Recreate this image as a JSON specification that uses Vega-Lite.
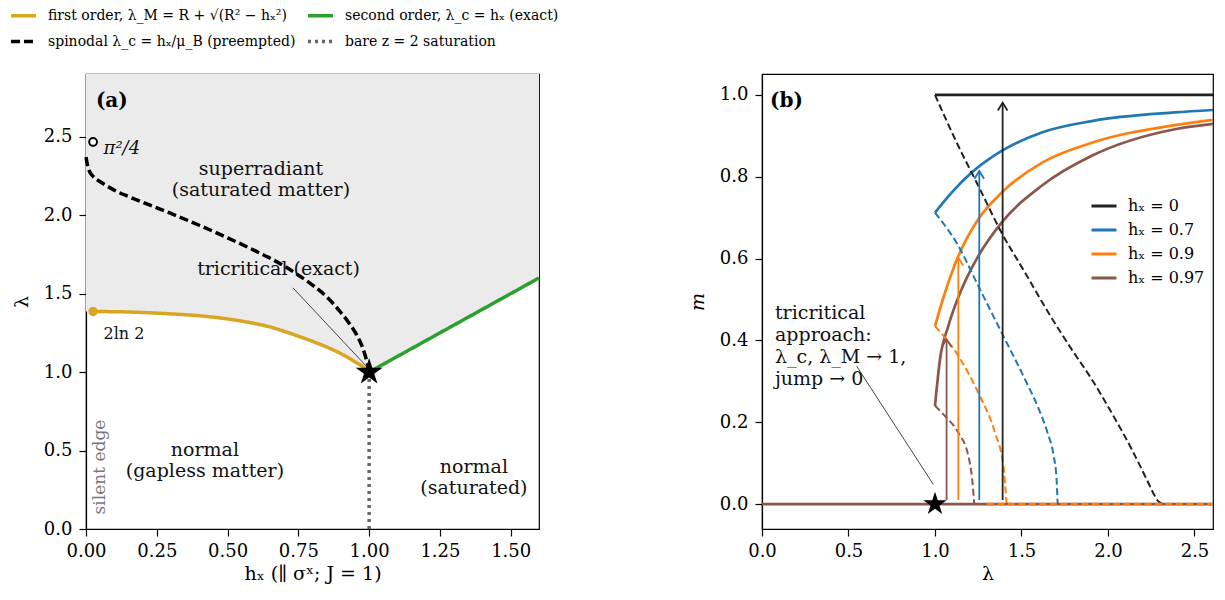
{
  "$schema": "https://vega.github.io/schema/vega-lite/v6.json",
  "background": "white",
  "padding": {"left": 8, "top": 0, "right": 5, "bottom": 5},
  "spacing": 127,
  "config": {
    "font": "DejaVu Serif",
    "view": {"stroke": "black", "strokeWidth": 1.2},
    "axis": {"labelFont": "DejaVu Serif", "labelFontSize": 18, "labelColor": "black", "labelFlush": false, "labelOverlap": false, "titleFont": "DejaVu Serif", "titleFontSize": 19, "titleFontWeight": "normal", "titleColor": "black", "domainColor": "black", "domainWidth": 1.2, "tickColor": "black", "tickSize": 7, "tickWidth": 1.2, "grid": false, "labelPadding": 6},
    "axisY": {"labelPadding": 7},
    "legend": {"labelFont": "DejaVu Serif", "labelColor": "black", "padding": 0}
  },
  "resolve": {"scale": {"color": "independent", "strokeDash": "independent", "strokeWidth": "independent"}},
  "datasets": {
    "a_area": [
      {"h": 0, "lam": 1.387}, {"h": 0.025, "lam": 1.387}, {"h": 0.05, "lam": 1.386}, {"h": 0.1, "lam": 1.385},
      {"h": 0.15, "lam": 1.383}, {"h": 0.2, "lam": 1.38}, {"h": 0.25, "lam": 1.376}, {"h": 0.3, "lam": 1.371},
      {"h": 0.35, "lam": 1.366}, {"h": 0.4, "lam": 1.359}, {"h": 0.45, "lam": 1.35}, {"h": 0.5, "lam": 1.339},
      {"h": 0.55, "lam": 1.325}, {"h": 0.6, "lam": 1.308}, {"h": 0.65, "lam": 1.288}, {"h": 0.7, "lam": 1.26},
      {"h": 0.75, "lam": 1.229}, {"h": 0.8, "lam": 1.196}, {"h": 0.85, "lam": 1.16}, {"h": 0.9, "lam": 1.118},
      {"h": 0.95, "lam": 1.066}, {"h": 0.975, "lam": 1.038}, {"h": 1.0, "lam": 1.0}, {"h": 1.6, "lam": 1.6}
    ],
    "a_lines": [
      {"curve": "first order, λ_M = R + √(R² − hₓ²)", "ord": 1, "h": 0.025, "lam": 1.387},
      {"curve": "first order, λ_M = R + √(R² − hₓ²)", "ord": 2, "h": 0.05, "lam": 1.386},
      {"curve": "first order, λ_M = R + √(R² − hₓ²)", "ord": 3, "h": 0.1, "lam": 1.385},
      {"curve": "first order, λ_M = R + √(R² − hₓ²)", "ord": 4, "h": 0.15, "lam": 1.383},
      {"curve": "first order, λ_M = R + √(R² − hₓ²)", "ord": 5, "h": 0.2, "lam": 1.38},
      {"curve": "first order, λ_M = R + √(R² − hₓ²)", "ord": 6, "h": 0.25, "lam": 1.376},
      {"curve": "first order, λ_M = R + √(R² − hₓ²)", "ord": 7, "h": 0.3, "lam": 1.371},
      {"curve": "first order, λ_M = R + √(R² − hₓ²)", "ord": 8, "h": 0.35, "lam": 1.366},
      {"curve": "first order, λ_M = R + √(R² − hₓ²)", "ord": 9, "h": 0.4, "lam": 1.359},
      {"curve": "first order, λ_M = R + √(R² − hₓ²)", "ord": 10, "h": 0.45, "lam": 1.35},
      {"curve": "first order, λ_M = R + √(R² − hₓ²)", "ord": 11, "h": 0.5, "lam": 1.339},
      {"curve": "first order, λ_M = R + √(R² − hₓ²)", "ord": 12, "h": 0.55, "lam": 1.325},
      {"curve": "first order, λ_M = R + √(R² − hₓ²)", "ord": 13, "h": 0.6, "lam": 1.308},
      {"curve": "first order, λ_M = R + √(R² − hₓ²)", "ord": 14, "h": 0.65, "lam": 1.288},
      {"curve": "first order, λ_M = R + √(R² − hₓ²)", "ord": 15, "h": 0.7, "lam": 1.26},
      {"curve": "first order, λ_M = R + √(R² − hₓ²)", "ord": 16, "h": 0.75, "lam": 1.229},
      {"curve": "first order, λ_M = R + √(R² − hₓ²)", "ord": 17, "h": 0.8, "lam": 1.196},
      {"curve": "first order, λ_M = R + √(R² − hₓ²)", "ord": 18, "h": 0.85, "lam": 1.16},
      {"curve": "first order, λ_M = R + √(R² − hₓ²)", "ord": 19, "h": 0.9, "lam": 1.118},
      {"curve": "first order, λ_M = R + √(R² − hₓ²)", "ord": 20, "h": 0.95, "lam": 1.066},
      {"curve": "first order, λ_M = R + √(R² − hₓ²)", "ord": 21, "h": 0.975, "lam": 1.038},
      {"curve": "first order, λ_M = R + √(R² − hₓ²)", "ord": 22, "h": 1.0, "lam": 1.0},
      {"curve": "second order, λ_c = hₓ (exact)", "ord": 1, "h": 1.0, "lam": 1.0},
      {"curve": "second order, λ_c = hₓ (exact)", "ord": 2, "h": 1.6, "lam": 1.6},
      {"curve": "spinodal λ_c = hₓ/μ_B (preempted)", "ord": 1, "h": 0.0, "lam": 2.37},
      {"curve": "spinodal λ_c = hₓ/μ_B (preempted)", "ord": 2, "h": 0.004, "lam": 2.33},
      {"curve": "spinodal λ_c = hₓ/μ_B (preempted)", "ord": 3, "h": 0.01, "lam": 2.29},
      {"curve": "spinodal λ_c = hₓ/μ_B (preempted)", "ord": 4, "h": 0.025, "lam": 2.248},
      {"curve": "spinodal λ_c = hₓ/μ_B (preempted)", "ord": 5, "h": 0.05, "lam": 2.213},
      {"curve": "spinodal λ_c = hₓ/μ_B (preempted)", "ord": 6, "h": 0.075, "lam": 2.185},
      {"curve": "spinodal λ_c = hₓ/μ_B (preempted)", "ord": 7, "h": 0.107, "lam": 2.153},
      {"curve": "spinodal λ_c = hₓ/μ_B (preempted)", "ord": 8, "h": 0.15, "lam": 2.119},
      {"curve": "spinodal λ_c = hₓ/μ_B (preempted)", "ord": 9, "h": 0.2, "lam": 2.083},
      {"curve": "spinodal λ_c = hₓ/μ_B (preempted)", "ord": 10, "h": 0.3, "lam": 2.011},
      {"curve": "spinodal λ_c = hₓ/μ_B (preempted)", "ord": 11, "h": 0.4, "lam": 1.936},
      {"curve": "spinodal λ_c = hₓ/μ_B (preempted)", "ord": 12, "h": 0.5, "lam": 1.856},
      {"curve": "spinodal λ_c = hₓ/μ_B (preempted)", "ord": 13, "h": 0.6, "lam": 1.771},
      {"curve": "spinodal λ_c = hₓ/μ_B (preempted)", "ord": 14, "h": 0.7, "lam": 1.676},
      {"curve": "spinodal λ_c = hₓ/μ_B (preempted)", "ord": 15, "h": 0.75, "lam": 1.618},
      {"curve": "spinodal λ_c = hₓ/μ_B (preempted)", "ord": 16, "h": 0.8, "lam": 1.555},
      {"curve": "spinodal λ_c = hₓ/μ_B (preempted)", "ord": 17, "h": 0.85, "lam": 1.48},
      {"curve": "spinodal λ_c = hₓ/μ_B (preempted)", "ord": 18, "h": 0.9, "lam": 1.38},
      {"curve": "spinodal λ_c = hₓ/μ_B (preempted)", "ord": 19, "h": 0.93, "lam": 1.31},
      {"curve": "spinodal λ_c = hₓ/μ_B (preempted)", "ord": 20, "h": 0.955, "lam": 1.24},
      {"curve": "spinodal λ_c = hₓ/μ_B (preempted)", "ord": 21, "h": 0.975, "lam": 1.165},
      {"curve": "spinodal λ_c = hₓ/μ_B (preempted)", "ord": 22, "h": 0.985, "lam": 1.113},
      {"curve": "spinodal λ_c = hₓ/μ_B (preempted)", "ord": 23, "h": 0.993, "lam": 1.06},
      {"curve": "spinodal λ_c = hₓ/μ_B (preempted)", "ord": 24, "h": 1.0, "lam": 1.0},
      {"curve": "bare z = 2 saturation", "ord": 1, "h": 1.0, "lam": 0.0},
      {"curve": "bare z = 2 saturation", "ord": 2, "h": 1.0, "lam": 1.0}
    ],
    "a_ptr": [{"h": 0.731, "lam": 1.537, "h2": 0.99, "lam2": 1.038}],
    "a_gold": [{"h": 0.025, "lam": 1.387}],
    "a_open": [{"h": 0.025, "lam": 2.467}],
    "a_star": [{"h": 1.0, "lam": 1.0}],
    "a_tc": [
      {"h": 0.618, "lam": 2.296, "t": "superradiant\n(saturated matter)"},
      {"h": 0.68, "lam": 1.656, "t": "tricritical (exact)"},
      {"h": 0.42, "lam": 0.506, "t": "normal\n(gapless matter)"},
      {"h": 1.37, "lam": 0.392, "t": "normal\n(saturated)"}
    ],
    "a_pi": [{"h": 0.062, "lam": 2.42, "t": "π²/4"}],
    "a_ln": [{"h": 0.062, "lam": 1.245, "t": "2ln 2"}],
    "a_lab": [{"h": 0.035, "lam": 2.726, "t": "(a)"}],
    "a_silent": [{"h": 0.049, "lam": 0.395, "t": "silent edge"}],
    "b_stable": [
      {"series": "hₓ = 0", "lam": 1.0, "m": 1.0}, {"series": "hₓ = 0", "lam": 2.607, "m": 1.0},
      {"series": "hₓ = 0.7", "lam": 1.0, "m": 0.712}, {"series": "hₓ = 0.7", "lam": 1.096, "m": 0.761},
      {"series": "hₓ = 0.7", "lam": 1.212, "m": 0.81}, {"series": "hₓ = 0.7", "lam": 1.385, "m": 0.863},
      {"series": "hₓ = 0.7", "lam": 1.617, "m": 0.908}, {"series": "hₓ = 0.7", "lam": 1.906, "m": 0.936},
      {"series": "hₓ = 0.7", "lam": 2.387, "m": 0.957}, {"series": "hₓ = 0.7", "lam": 2.607, "m": 0.963},
      {"series": "hₓ = 0.9", "lam": 1.0, "m": 0.435}, {"series": "hₓ = 0.9", "lam": 1.058, "m": 0.517},
      {"series": "hₓ = 0.9", "lam": 1.135, "m": 0.606}, {"series": "hₓ = 0.9", "lam": 1.25, "m": 0.696},
      {"series": "hₓ = 0.9", "lam": 1.385, "m": 0.761}, {"series": "hₓ = 0.9", "lam": 1.617, "m": 0.834},
      {"series": "hₓ = 0.9", "lam": 1.906, "m": 0.883}, {"series": "hₓ = 0.9", "lam": 2.387, "m": 0.926},
      {"series": "hₓ = 0.9", "lam": 2.607, "m": 0.939},
      {"series": "hₓ = 0.97", "lam": 1.0, "m": 0.24}, {"series": "hₓ = 0.97", "lam": 1.029, "m": 0.354},
      {"series": "hₓ = 0.97", "lam": 1.077, "m": 0.435}, {"series": "hₓ = 0.97", "lam": 1.154, "m": 0.525},
      {"series": "hₓ = 0.97", "lam": 1.25, "m": 0.606}, {"series": "hₓ = 0.97", "lam": 1.385, "m": 0.688},
      {"series": "hₓ = 0.97", "lam": 1.617, "m": 0.778}, {"series": "hₓ = 0.97", "lam": 1.906, "m": 0.851},
      {"series": "hₓ = 0.97", "lam": 2.387, "m": 0.916}, {"series": "hₓ = 0.97", "lam": 2.607, "m": 0.929}
    ],
    "b_unstable": [
      {"series": "hₓ = 0", "lam": 1.0, "m": 1.0}, {"series": "hₓ = 0", "lam": 1.135, "m": 0.875},
      {"series": "hₓ = 0", "lam": 1.25, "m": 0.778}, {"series": "hₓ = 0", "lam": 1.385, "m": 0.663},
      {"series": "hₓ = 0", "lam": 1.52, "m": 0.566}, {"series": "hₓ = 0", "lam": 1.655, "m": 0.468},
      {"series": "hₓ = 0", "lam": 1.79, "m": 0.378}, {"series": "hₓ = 0", "lam": 1.906, "m": 0.305},
      {"series": "hₓ = 0", "lam": 2.021, "m": 0.223}, {"series": "hₓ = 0", "lam": 2.137, "m": 0.134},
      {"series": "hₓ = 0", "lam": 2.233, "m": 0.052}, {"series": "hₓ = 0", "lam": 2.27, "m": 0.02},
      {"series": "hₓ = 0", "lam": 2.29, "m": 0.007}, {"series": "hₓ = 0", "lam": 2.32, "m": 0.0},
      {"series": "hₓ = 0.7", "lam": 1.0, "m": 0.712}, {"series": "hₓ = 0.7", "lam": 1.135, "m": 0.631},
      {"series": "hₓ = 0.7", "lam": 1.25, "m": 0.533}, {"series": "hₓ = 0.7", "lam": 1.385, "m": 0.419},
      {"series": "hₓ = 0.7", "lam": 1.52, "m": 0.305}, {"series": "hₓ = 0.7", "lam": 1.6, "m": 0.232},
      {"series": "hₓ = 0.7", "lam": 1.65, "m": 0.175}, {"series": "hₓ = 0.7", "lam": 1.685, "m": 0.12},
      {"series": "hₓ = 0.7", "lam": 1.702, "m": 0.065}, {"series": "hₓ = 0.7", "lam": 1.709, "m": 0.0},
      {"series": "hₓ = 0.9", "lam": 1.0, "m": 0.435}, {"series": "hₓ = 0.9", "lam": 1.135, "m": 0.362},
      {"series": "hₓ = 0.9", "lam": 1.25, "m": 0.272}, {"series": "hₓ = 0.9", "lam": 1.347, "m": 0.174},
      {"series": "hₓ = 0.9", "lam": 1.395, "m": 0.093}, {"series": "hₓ = 0.9", "lam": 1.414, "m": 0.0},
      {"series": "hₓ = 0.97", "lam": 1.0, "m": 0.24}, {"series": "hₓ = 0.97", "lam": 1.058, "m": 0.215},
      {"series": "hₓ = 0.97", "lam": 1.135, "m": 0.174}, {"series": "hₓ = 0.97", "lam": 1.193, "m": 0.117},
      {"series": "hₓ = 0.97", "lam": 1.215, "m": 0.06}, {"series": "hₓ = 0.97", "lam": 1.227, "m": 0.0}
    ],
    "b_zero_solid": [{"series": "hₓ = 0.97", "lam": 0.0, "m": 0.0}, {"series": "hₓ = 0.97", "lam": 2.607, "m": 0.0}],
    "b_zero_dash": [{"series": "hₓ = 0.9", "lam": 1.3, "m": 0.0}, {"series": "hₓ = 0.9", "lam": 2.607, "m": 0.0}],
    "b_arrows": [
      {"series": "hₓ = 0", "lam": 1.391, "m": 0.01, "m2": 0.981},
      {"series": "hₓ = 0.7", "lam": 1.256, "m": 0.01, "m2": 0.814},
      {"series": "hₓ = 0.9", "lam": 1.135, "m": 0.01, "m2": 0.602},
      {"series": "hₓ = 0.97", "lam": 1.067, "m": 0.01, "m2": 0.403}
    ],
    "b_ptr": [{"lam": 0.547, "m": 0.337, "lam2": 0.99, "m2": 0.048}],
    "b_star": [{"lam": 1.0, "m": 0.0}],
    "b_text": [{"lam": 0.075, "m": 0.466, "t": "tricritical\napproach:\nλ_c, λ_M → 1,\njump → 0"}],
    "b_lab": [{"lam": 0.046, "m": 0.985, "t": "(b)"}]
  },
  "hconcat": [
    {
      "width": 453,
      "height": 455,
      "encoding": {
        "x": {"field": "h", "type": "quantitative", "title": "hₓ  (∥ σˣ; J = 1)", "scale": {"domain": [0, 1.6], "nice": false, "zero": false}, "axis": {"values": [0, 0.25, 0.5, 0.75, 1, 1.25, 1.5], "format": ".2f", "titlePadding": 4}},
        "y": {"field": "lam", "type": "quantitative", "title": "λ", "scale": {"domain": [0, 2.9], "nice": false, "zero": false}, "axis": {"values": [0, 0.5, 1, 1.5, 2, 2.5], "format": ".1f", "titlePadding": 12}}
      },
      "layer": [
        {"data": {"name": "a_area"}, "mark": {"type": "area", "color": "#ebebeb"}, "encoding": {"y2": {"datum": 2.9}}},
        {
          "data": {"name": "a_lines"},
          "mark": {"type": "line", "strokeCap": "butt", "interpolate": "monotone"},
          "encoding": {
            "order": {"field": "ord", "type": "quantitative"},
            "color": {"field": "curve", "type": "nominal", "scale": {"domain": ["first order, λ_M = R + √(R² − hₓ²)", "second order, λ_c = hₓ (exact)", "spinodal λ_c = hₓ/μ_B (preempted)", "bare z = 2 saturation"], "range": ["#daa520", "#2ca02c", "#000000", "#666666"]},
              "legend": {"orient": "none", "legendX": -77, "legendY": -73, "columns": 2, "direction": "horizontal", "title": null, "symbolType": "stroke", "symbolSize": 625, "labelFontSize": 14, "labelOffset": 10, "rowPadding": 4, "columnPadding": 5, "labelLimit": 500}},
            "strokeDash": {"field": "curve", "type": "nominal", "scale": {"domain": ["first order, λ_M = R + √(R² − hₓ²)", "second order, λ_c = hₓ (exact)", "spinodal λ_c = hₓ/μ_B (preempted)", "bare z = 2 saturation"], "range": [[1, 0], [1, 0], [9, 4], [3, 4]]},
              "legend": {"orient": "none", "legendX": -77, "legendY": -73, "columns": 2, "direction": "horizontal", "title": null, "symbolType": "stroke", "symbolSize": 625, "labelFontSize": 14, "labelOffset": 10, "rowPadding": 4, "columnPadding": 5, "labelLimit": 500}},
            "strokeWidth": {"field": "curve", "type": "nominal", "scale": {"domain": ["first order, λ_M = R + √(R² − hₓ²)", "second order, λ_c = hₓ (exact)", "spinodal λ_c = hₓ/μ_B (preempted)", "bare z = 2 saturation"], "range": [3.5, 3.5, 2.5, 2.5]},
              "legend": {"orient": "none", "legendX": -77, "legendY": -73, "columns": 2, "direction": "horizontal", "title": null, "symbolType": "stroke", "symbolSize": 625, "labelFontSize": 14, "labelOffset": 10, "rowPadding": 4, "columnPadding": 5, "labelLimit": 500}}
          }
        },
        {"data": {"name": "a_ptr"}, "mark": {"type": "rule", "color": "#444444", "strokeWidth": 1}, "encoding": {"x2": {"field": "h2"}, "y2": {"field": "lam2"}}},
        {"data": {"name": "a_gold"}, "mark": {"type": "point", "filled": true, "color": "#daa520", "size": 90, "opacity": 1}},
        {"data": {"name": "a_open"}, "mark": {"type": "point", "filled": true, "fill": "white", "stroke": "black", "strokeWidth": 2, "size": 60, "opacity": 1}},
        {"data": {"name": "a_star"}, "mark": {"type": "point", "filled": true, "color": "black", "opacity": 1, "size": 800, "shape": "M0,-1L0.2245,-0.309L0.9511,-0.309L0.3633,0.118L0.5878,0.809L0,0.382L-0.5878,0.809L-0.3633,0.118L-0.9511,-0.309L-0.2245,-0.309Z"}},
        {"data": {"name": "a_tc"}, "mark": {"type": "text", "fontSize": 19, "align": "center", "baseline": "middle", "lineBreak": "\n", "lineHeight": 21, "color": "#111111"}, "encoding": {"text": {"field": "t"}}},
        {"data": {"name": "a_pi"}, "mark": {"type": "text", "fontSize": 18, "fontStyle": "italic", "align": "left", "baseline": "middle", "color": "#111111"}, "encoding": {"text": {"field": "t"}}},
        {"data": {"name": "a_ln"}, "mark": {"type": "text", "fontSize": 16, "align": "left", "baseline": "middle", "color": "#111111"}, "encoding": {"text": {"field": "t"}}},
        {"data": {"name": "a_lab"}, "mark": {"type": "text", "fontSize": 20, "fontWeight": "bold", "align": "left", "baseline": "middle", "color": "black"}, "encoding": {"text": {"field": "t"}}},
        {"data": {"name": "a_silent"}, "mark": {"type": "text", "fontSize": 17, "angle": 270, "align": "center", "baseline": "middle", "color": "#777777"}, "encoding": {"text": {"field": "t"}}}
      ]
    },
    {
      "width": 451,
      "height": 455,
      "encoding": {
        "x": {"field": "lam", "type": "quantitative", "title": "λ", "scale": {"domain": [0, 2.607], "nice": false, "zero": false}, "axis": {"values": [0, 0.5, 1, 1.5, 2, 2.5], "format": ".1f", "titlePadding": 4}},
        "y": {"field": "m", "type": "quantitative", "title": "m", "scale": {"domain": [-0.061, 1.051], "nice": false, "zero": false}, "axis": {"values": [0, 0.2, 0.4, 0.6, 0.8, 1.0], "format": ".1f", "titlePadding": 12, "titleFontStyle": "italic"}}
      },
      "layer": [
        {
          "data": {"name": "b_stable"},
          "mark": {"type": "line", "strokeWidth": 2.7, "interpolate": "monotone"},
          "encoding": {
            "color": {"field": "series", "type": "nominal", "scale": {"domain": ["hₓ = 0", "hₓ = 0.7", "hₓ = 0.9", "hₓ = 0.97"], "range": ["#222222", "#1f77b4", "#ff7f0e", "#8c564b"]},
              "legend": {"orient": "none", "legendX": 328, "legendY": 118, "title": null, "symbolType": "stroke", "symbolSize": 625, "symbolStrokeWidth": 3, "labelFontSize": 16, "labelOffset": 10, "rowPadding": 2}}
          }
        },
        {"data": {"name": "b_unstable"}, "mark": {"type": "line", "strokeWidth": 2, "strokeDash": [7, 3.5], "interpolate": "monotone"}, "encoding": {"color": {"field": "series", "type": "nominal"}}},
        {"data": {"name": "b_zero_solid"}, "mark": {"type": "line", "strokeWidth": 2.7}, "encoding": {"color": {"field": "series", "type": "nominal"}}},
        {"data": {"name": "b_zero_dash"}, "mark": {"type": "line", "strokeWidth": 2.7, "strokeDash": [7, 3.5]}, "encoding": {"color": {"field": "series", "type": "nominal"}}},
        {"data": {"name": "b_arrows"}, "mark": {"type": "rule", "strokeWidth": 1.8}, "encoding": {"y2": {"field": "m2"}, "color": {"field": "series", "type": "nominal"}}},
        {"data": {"name": "b_arrows"}, "mark": {"type": "point", "filled": false, "strokeWidth": 1.8, "size": 144, "opacity": 1, "shape": "M-0.8,1.3L0,0L0.8,1.3"}, "encoding": {"y": {"field": "m2", "type": "quantitative"}, "color": {"field": "series", "type": "nominal"}}},
        {"data": {"name": "b_ptr"}, "mark": {"type": "rule", "color": "#444444", "strokeWidth": 1}, "encoding": {"x2": {"field": "lam2"}, "y2": {"field": "m2"}}},
        {"data": {"name": "b_star"}, "mark": {"type": "point", "filled": true, "color": "black", "opacity": 1, "size": 600, "shape": "M0,-1L0.2245,-0.309L0.9511,-0.309L0.3633,0.118L0.5878,0.809L0,0.382L-0.5878,0.809L-0.3633,0.118L-0.9511,-0.309L-0.2245,-0.309Z"}},
        {"data": {"name": "b_text"}, "mark": {"type": "text", "fontSize": 19, "align": "left", "baseline": "middle", "lineBreak": "\n", "lineHeight": 22, "color": "#111111"}, "encoding": {"text": {"field": "t"}}},
        {"data": {"name": "b_lab"}, "mark": {"type": "text", "fontSize": 20, "fontWeight": "bold", "align": "left", "baseline": "middle", "color": "black"}, "encoding": {"text": {"field": "t"}}}
      ]
    }
  ]
}
